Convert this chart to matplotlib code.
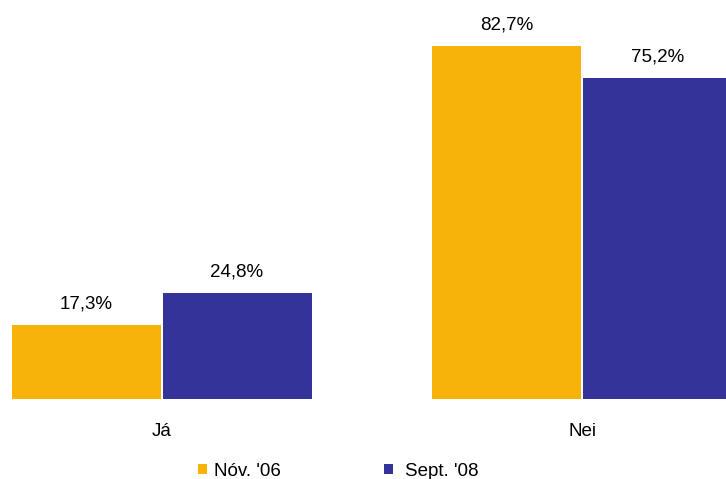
import matplotlib
matplotlib.use('Agg')
import matplotlib.pyplot as plt
from matplotlib.patches import Patch
from matplotlib.transforms import blended_transform_factory

# --- data ---
categories = ['Já', 'Nei']
series_names = ["Nóv. '06", "Sept. '08"]
nov06 = [17.3, 82.7]
sept08 = [24.8, 75.2]

colors = ['#F7B30A', '#333399']

plt.rcParams['font.family'] = ['Liberation Sans', 'DejaVu Sans']
plt.rcParams['font.size'] = 13.5

fig = plt.figure(figsize=(7.26, 4.79), dpi=100)
W, H = 726, 479
ax = fig.add_axes([0, 80 / H, 1, (H - 80) / H])

unit = 420.5
xs = [0, 1]
bw = 149 / unit
off = 75.5 / unit

for i, vals in enumerate([nov06, sept08]):
    pos = [x + (-off if i == 0 else off) for x in xs]
    bars = ax.bar(pos, vals, width=bw, color=colors[i], edgecolor='none', zorder=2)
    for b, v in zip(bars, vals):
        ax.annotate(f'{v:.1f}%'.replace('.', ','),
                    (b.get_x() + b.get_width() / 2, v),
                    xytext=(0, 9), textcoords='offset points',
                    ha='center', va='bottom')

ax.set_xlim(-161.5 / unit, (W - 161.5) / unit)
ax.set_ylim(0, 399 / 353 * 82.7)
ax.axis('off')

trans = blended_transform_factory(ax.transData, ax.transAxes)
for x, c in zip(xs, categories):
    ax.text(x, -33 / 399, c, transform=trans, ha='center', va='center')

# legend: one entry each, placed where the reference has them
for name, col, x0, pad in zip(series_names, colors, [198, 384], [0.35, 0.6]):
    fig.legend([Patch(facecolor=col)], [name], loc='center left',
               bbox_to_anchor=(x0 / W, 1 - 471 / H), frameon=False,
               borderpad=0, borderaxespad=0,
               handlelength=0.5, handleheight=0.5, handletextpad=pad)

fig.savefig('out.png', dpi=100)
